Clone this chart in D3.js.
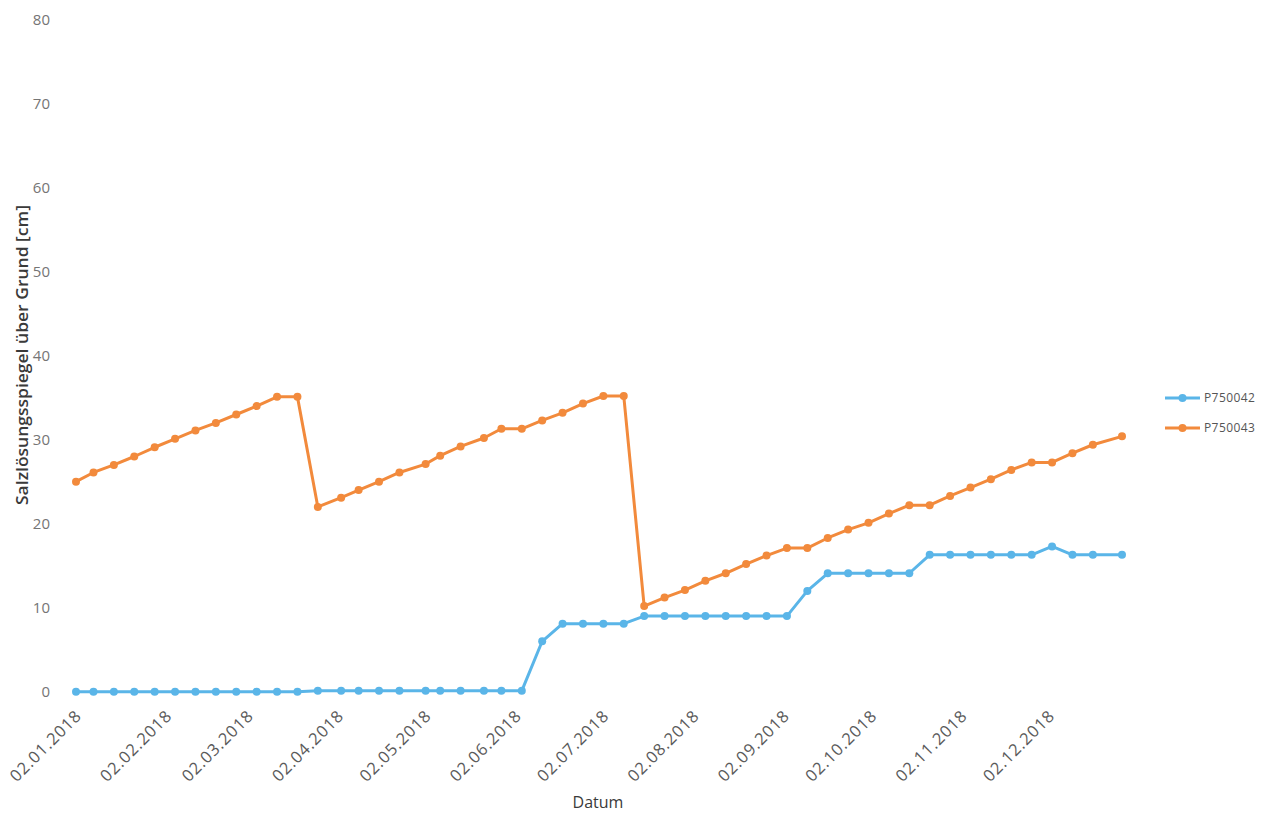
<!DOCTYPE html>
<html>
<head>
<meta charset="utf-8">
<script src="https://cdn.jsdelivr.net/npm/d3@7"></script>
<style>
  html, body { margin: 0; padding: 0; background: #ffffff; }
  svg { display: block; }
</style>
</head>
<body>
<svg id="chart" width="1278" height="813"></svg>
<script>
// ---- Data ----
const dates = [
  "2018-01-02","2018-01-08","2018-01-15","2018-01-22","2018-01-29",
  "2018-02-05","2018-02-12","2018-02-19","2018-02-26",
  "2018-03-05","2018-03-12","2018-03-19","2018-03-26",
  "2018-04-03","2018-04-09","2018-04-16","2018-04-23",
  "2018-05-02","2018-05-07","2018-05-14","2018-05-22","2018-05-28",
  "2018-06-04","2018-06-11","2018-06-18","2018-06-25",
  "2018-07-02","2018-07-09","2018-07-16","2018-07-23","2018-07-30",
  "2018-08-06","2018-08-13","2018-08-20","2018-08-27",
  "2018-09-03","2018-09-10","2018-09-17","2018-09-24",
  "2018-10-01","2018-10-08","2018-10-15","2018-10-22","2018-10-29",
  "2018-11-05","2018-11-12","2018-11-19","2018-11-26",
  "2018-12-03","2018-12-10","2018-12-17","2018-12-27"
];
const p750042 = [
  0, 0, 0, 0, 0, 0, 0, 0, 0, 0, 0, 0,
  0.1, 0.1, 0.1, 0.1, 0.1, 0.1, 0.1, 0.1, 0.1, 0.1, 0.1,
  6.0, 8.1, 8.1, 8.1, 8.1,
  9.0, 9.0, 9.0, 9.0, 9.0, 9.0, 9.0, 9.0,
  12.0, 14.1, 14.1, 14.1, 14.1, 14.1,
  16.3, 16.3, 16.3, 16.3, 16.3, 16.3,
  17.3, 16.3, 16.3, 16.3
];
const p750043 = [
  25.0, 26.1, 27.0, 28.0, 29.1, 30.1, 31.1, 32.0, 33.0, 34.0, 35.1, 35.1,
  22.0, 23.1, 24.0, 25.0, 26.1, 27.1, 28.1, 29.2, 30.2, 31.3, 31.3, 32.3, 33.2, 34.3, 35.2, 35.2,
  10.2, 11.2, 12.1, 13.2, 14.1, 15.2, 16.2, 17.1, 17.1, 18.3, 19.3, 20.1, 21.2, 22.2, 22.2,
  23.3, 24.3, 25.3, 26.4, 27.3, 27.3, 28.4, 29.4, 30.4
];
const seriesNames = ["P750042", "P750043"];
const seriesColors = ["#5AB5E8", "#F28A3C"];
const xTickDates = [
  "2018-01-02","2018-02-02","2018-03-02","2018-04-02","2018-05-02","2018-06-02",
  "2018-07-02","2018-08-02","2018-09-02","2018-10-02","2018-11-02","2018-12-02"
];
const yTicks = [0, 10, 20, 30, 40, 50, 60, 70, 80];
const yTitle = "Salzlösungsspiegel über Grund [cm]";
const xTitle = "Datum";

// ---- Setup ----
const parse = d3.utcParse("%Y-%m-%d");
const fmt = d3.utcFormat("%d.%m.%Y");
const xDates = dates.map(parse);
const series = [p750042, p750043].map((vals, i) => ({
  name: seriesNames[i],
  color: seriesColors[i],
  points: vals.map((v, j) => ({ date: xDates[j], value: v }))
}));

const svg = d3.select("#chart");
const plot = { left: 76, right: 1122, top: 19.7, bottom: 691.7 };

const x = d3.scaleUtc()
  .domain([xDates[0], xDates[xDates.length - 1]])
  .range([plot.left, plot.right]);
const y = d3.scaleLinear().domain([0, 80]).range([plot.bottom, plot.top]);

// Y axis
const yAxis = svg.append("g")
  .attr("transform", `translate(${plot.left},0)`)
  .call(d3.axisLeft(y).tickValues(yTicks).tickSize(0).tickPadding(26));
yAxis.select(".domain").remove();
yAxis.selectAll("text")
  .attr("font-family", "'Open Sans', sans-serif")
  .attr("font-size", 15)
  .attr("fill", "#757575");

// X axis
const xAxis = svg.append("g")
  .attr("transform", `translate(0,${plot.bottom})`)
  .call(d3.axisBottom(x).tickValues(xTickDates.map(parse)).tickFormat(fmt).tickSize(0));
xAxis.select(".domain").remove();
xAxis.selectAll("text")
  .attr("font-family", "'Open Sans', sans-serif")
  .attr("font-size", 16.5)
  .attr("letter-spacing", 0.9)
  .attr("fill", "#5a5a5a")
  .attr("text-anchor", "end")
  .attr("dy", 0)
  .attr("transform", "translate(4,23) rotate(-45)");

// Axis titles
svg.append("text")
  .attr("transform", `translate(28,355) rotate(-90)`)
  .attr("text-anchor", "middle")
  .attr("font-family", "'Open Sans', sans-serif")
  .attr("font-size", 15.5)
  .attr("font-weight", 600)
  .attr("textLength", 300)
  .attr("lengthAdjust", "spacingAndGlyphs")
  .attr("fill", "#3a3a3a")
  .text(yTitle);

svg.append("text")
  .attr("x", 598)
  .attr("y", 808)
  .attr("text-anchor", "middle")
  .attr("font-family", "'Open Sans', sans-serif")
  .attr("font-size", 16)
  .attr("fill", "#3a3a3a")
  .text(xTitle);

// Lines
const line = d3.line().x(d => x(d.date)).y(d => y(d.value));
series.forEach(s => {
  const g = svg.append("g");
  g.append("path")
    .datum(s.points)
    .attr("fill", "none")
    .attr("stroke", s.color)
    .attr("stroke-width", 3)
    .attr("stroke-linejoin", "round")
    .attr("d", line);
  g.selectAll("circle")
    .data(s.points)
    .join("circle")
    .attr("cx", d => x(d.date))
    .attr("cy", d => y(d.value))
    .attr("r", 4)
    .attr("fill", s.color);
});

// Legend
const legend = svg.append("g");
series.forEach((s, i) => {
  const ly = 398 + i * 30;
  legend.append("line")
    .attr("x1", 1165).attr("x2", 1200)
    .attr("y1", ly).attr("y2", ly)
    .attr("stroke", s.color).attr("stroke-width", 3);
  legend.append("circle")
    .attr("cx", 1182.5).attr("cy", ly).attr("r", 4).attr("fill", s.color);
  legend.append("text")
    .attr("x", 1204).attr("y", ly + 4)
    .attr("font-family", "'Open Sans', sans-serif")
    .attr("font-size", 12)
    .attr("letter-spacing", 0.4)
    .attr("fill", "#555555")
    .text(s.name);
});
</script>
</body>
</html>
